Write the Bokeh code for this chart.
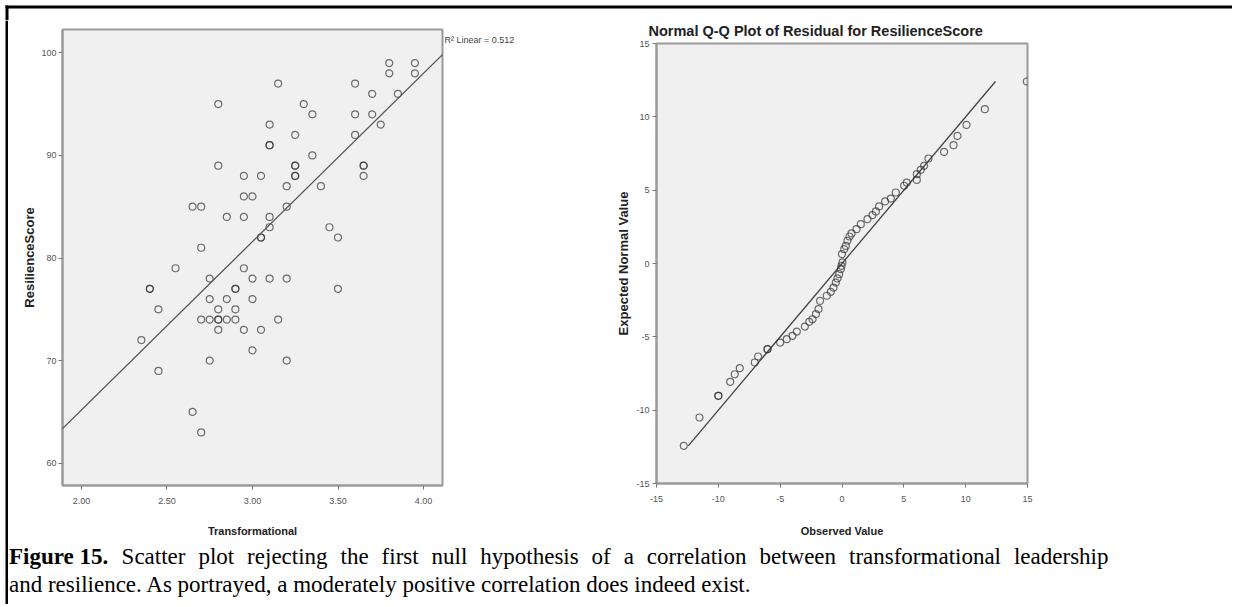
import numpy as np
from bokeh.plotting import figure
from bokeh.layouts import row, column
from bokeh.models import Range1d, FixedTicker, NumeralTickFormatter, Label, Slope
from bokeh.embed import file_html
from bokeh.resources import INLINE

# ---------------- data ----------------
transformational = [3.80, 3.80, 3.95, 3.95, 3.15, 3.60, 3.70, 3.85, 2.80, 3.30,
                    3.35, 3.60, 3.70, 3.10, 3.75, 3.25, 3.60, 3.10, 3.10, 3.35,
                    2.80, 3.25, 3.25, 3.65, 3.65, 2.95, 3.05, 3.25, 3.25, 3.65,
                    3.20, 3.40, 2.95, 3.00, 2.65, 2.70, 3.20, 2.85, 2.95, 3.10,
                    3.10, 3.45, 3.05, 3.05, 3.50, 2.70, 2.55, 2.95, 2.75, 3.00,
                    3.10, 3.20, 2.40, 2.40, 2.90, 2.90, 3.50, 2.75, 2.85, 3.00,
                    2.45, 2.80, 2.90, 2.70, 2.75, 2.80, 2.80, 2.85, 2.90, 3.15,
                    2.80, 2.95, 3.05, 2.35, 3.00, 2.75, 3.20, 2.45, 2.65, 2.70]
resilience = [99, 98, 99, 98, 97, 97, 96, 96, 95, 95,
              94, 94, 94, 93, 93, 92, 92, 91, 91, 90,
              89, 89, 89, 89, 89, 88, 88, 88, 88, 88,
              87, 87, 86, 86, 85, 85, 85, 84, 84, 84,
              83, 83, 82, 82, 82, 81, 79, 79, 78, 78,
              78, 78, 77, 77, 77, 77, 77, 76, 76, 76,
              75, 75, 75, 74, 74, 74, 74, 74, 74, 74,
              73, 73, 73, 72, 71, 70, 70, 69, 65, 63]
fit_slope = 16.4
fit_intercept = 32.4
r2_text = "R\u00b2 Linear = 0.512"

observed = [-12.79, -11.52, -10.0, -10.0, -9.04, -8.67, -8.26, -7.05, -6.78, -6.02,
            -6.02, -5.0, -4.46, -4.0, -3.65, -3.0, -2.65, -2.38, -2.11, -1.90,
            -1.77, -1.23, -0.90, -0.69, -0.50, -0.36, -0.23, -0.09, -0.04, 0.04,
            0.0, 0.18, 0.31, 0.44, 0.61, 0.77, 1.17, 1.52, 2.06, 2.47,
            2.74, 3.0, 3.49, 3.95, 4.35, 5.03, 5.24, 6.05, 6.05, 6.37,
            6.64, 6.99, 8.26, 9.02, 9.34, 10.07, 11.55, 14.95]
expected = [-12.43, -10.5, -9.02, -9.02, -8.07, -7.55, -7.14, -6.75, -6.34, -5.84,
            -5.84, -5.39, -5.16, -4.93, -4.64, -4.30, -3.98, -3.80, -3.45, -3.11,
            -2.55, -2.20, -1.93, -1.64, -1.30, -1.02, -0.73, -0.39, -0.16, 0.07,
            0.64, 0.98, 1.20, 1.55, 1.84, 2.05, 2.34, 2.68, 3.02, 3.30,
            3.55, 3.89, 4.23, 4.43, 4.84, 5.30, 5.52, 5.70, 6.09, 6.39,
            6.66, 7.16, 7.61, 8.07, 8.70, 9.45, 10.52, 12.41]

left_x_ticks = [2.0, 2.5, 3.0, 3.5, 4.0]
left_y_ticks = [60, 70, 80, 90, 100]
qq_ticks = [-15, -10, -5, 0, 5, 10, 15]

title_right = "Normal Q-Q Plot of Residual for ResilienceScore"
caption_bold = "Figure 15."
caption_line1 = "Scatter plot rejecting the first null hypothesis of a correlation between transformational leadership"
caption_line2 = "and resilience. As portrayed, a moderately positive correlation does indeed exist."

# ---------------- styles / layout sizes ----------------
SANS = "Liberation Sans"
SERIF = "Liberation Serif"
FRAME_BG = "#f0f0f0"
EDGE = "#9a9a9a"
MARK = "#333333"

TOTAL_W = 1232
PAD = 8                 # white gap + black rule on the left
TOP_H = 20              # strip holding the black rule at the top
ROW_H = 525
CAP_H = 59
LEFT_W = 436
MID_W = 156
RIGHT_W = TOTAL_W - PAD - LEFT_W - MID_W
RTITLE_H = 20


def style_axes(p):
    for ax in (p.xaxis[0], p.yaxis[0]):
        ax.axis_line_color = EDGE
        ax.axis_line_width = 2
        ax.major_tick_line_color = "#777777"
        ax.major_tick_in = 0
        ax.major_tick_out = 4
        ax.minor_tick_line_color = None
        ax.major_label_text_font = SANS
        ax.major_label_text_font_size = "9px"
        ax.major_label_text_color = "#555555"
        ax.axis_label_text_font = SANS
        ax.axis_label_text_font_style = "bold"
        ax.axis_label_text_color = "#222222"
    p.xaxis[0].axis_label_text_font_size = "11px"
    p.yaxis[0].axis_label_text_font_size = "13px"
    p.grid.visible = False
    p.background_fill_color = FRAME_BG
    p.border_fill_color = "white"
    p.outline_line_color = EDGE
    p.outline_line_width = 2


def blank(w, h, fill="white"):
    b = figure(width=w, height=h, output_backend="svg", toolbar_location=None,
               x_axis_type=None, y_axis_type=None, min_border=0,
               x_range=Range1d(0, w), y_range=Range1d(h, 0))
    b.title.visible = False
    b.background_fill_color = fill
    b.border_fill_color = fill
    b.outline_line_color = None
    b.grid.visible = False
    return b


# ---------------- left scatter ----------------
lx0, lx1 = 1.889, 4.111
ly0, ly1 = 57.83, 102.27
left = figure(width=LEFT_W, height=ROW_H, output_backend="svg", toolbar_location=None,
              x_range=Range1d(lx0, lx1), y_range=Range1d(ly0, ly1),
              min_border_left=54, min_border_right=LEFT_W - 54 - 380,
              min_border_top=9, min_border_bottom=ROW_H - 9 - 456)
left.title.visible = False
left.scatter(x=transformational, y=resilience, marker="circle", size=7,
             fill_color=None, line_color=MARK, line_alpha=0.7, line_width=1.2)
left.add_layout(Slope(gradient=fit_slope, y_intercept=fit_intercept,
                      line_color="#555555", line_width=1.3))
left.xaxis.axis_label = "Transformational"
left.yaxis.axis_label = "ResilienceScore"
left.xaxis.ticker = FixedTicker(ticks=left_x_ticks)
left.yaxis.ticker = FixedTicker(ticks=left_y_ticks)
left.xaxis.formatter = NumeralTickFormatter(format="0.00")
left.yaxis.formatter = NumeralTickFormatter(format="0")
style_axes(left)
left.xaxis.major_label_standoff = 8
left.xaxis.axis_label_standoff = 18
left.yaxis.major_label_standoff = 2
left.yaxis.axis_label_standoff = 1

# R-squared note (beside the left frame)
mid = blank(MID_W, ROW_H)
mid.add_layout(Label(x=0, y=19, text=r2_text, text_font=SANS, text_font_size="9px",
                     text_color="#444444", text_baseline="middle"))

# ---------------- right Q-Q ----------------
rtitle = blank(RIGHT_W, RTITLE_H)
rtitle.add_layout(Label(x=48, y=10, text=title_right, text_font=SANS, text_font_style="bold",
                        text_font_size="14.5px", text_color="#222222", text_baseline="middle"))

RH = ROW_H - RTITLE_H
right = figure(width=RIGHT_W, height=RH, output_backend="svg", toolbar_location=None,
               x_range=Range1d(-15, 15), y_range=Range1d(-15, 15),
               min_border_left=56, min_border_right=RIGHT_W - 56 - 371,
               min_border_top=3, min_border_bottom=RH - 3 - 440)
right.title.visible = False
ref_lo, ref_hi = min(expected), max(expected)
right.line(x=[ref_lo, ref_hi], y=[ref_lo, ref_hi], line_color="#444444", line_width=1.3)
right.scatter(x=observed, y=expected, marker="circle", size=7,
              fill_color=None, line_color=MARK, line_alpha=0.7, line_width=1.2)
right.xaxis.axis_label = "Observed Value"
right.yaxis.axis_label = "Expected Normal Value"
right.xaxis.ticker = FixedTicker(ticks=qq_ticks)
right.yaxis.ticker = FixedTicker(ticks=qq_ticks)
right.xaxis.formatter = NumeralTickFormatter(format="0")
right.yaxis.formatter = NumeralTickFormatter(format="0")
style_axes(right)
right.xaxis.major_label_standoff = 8
right.xaxis.axis_label_standoff = 20
right.yaxis.major_label_standoff = 3
right.yaxis.axis_label_standoff = 2

# ---------------- caption ----------------
TIMES_W = {' ': 250, 'a': 444, 'b': 500, 'c': 444, 'd': 500, 'e': 444, 'f': 333, 'g': 500,
           'h': 500, 'i': 278, 'j': 278, 'k': 500, 'l': 278, 'm': 778, 'n': 500, 'o': 500,
           'p': 500, 'q': 500, 'r': 333, 's': 389, 't': 278, 'u': 500, 'v': 500, 'w': 722,
           'x': 500, 'y': 500, 'z': 444, 'S': 556, 'A': 722, ',': 250, '.': 250}
TIMES_BOLD_W = {'F': 611, 'i': 278, 'g': 500, 'u': 556, 'r': 444, 'e': 444, ' ': 250,
                '1': 500, '5': 500, '.': 250}


def tw(s, table, fs):
    return sum(table.get(ch, 500) for ch in s) / 1000.0 * fs


CAP_W = TOTAL_W - PAD
cap = blank(CAP_W, CAP_H)
CAP_FS = 23
LINE1_Y, LINE2_Y = 11, 39
JUSTIFY_END = 1100
cap.add_layout(Label(x=0.5, y=LINE1_Y, text=caption_bold, text_font=SERIF, text_font_style="bold",
                     text_font_size=f"{CAP_FS}px", text_color="black", text_baseline="middle"))
words = caption_line1.split(" ")
bold_end = 0.5 + tw(caption_bold, TIMES_BOLD_W, CAP_FS)
natural = sum(tw(w, TIMES_W, CAP_FS) for w in words)
gap = (JUSTIFY_END - bold_end - natural) / len(words)
xpos = bold_end + gap
for w in words:
    cap.add_layout(Label(x=xpos, y=LINE1_Y, text=w, text_font=SERIF,
                         text_font_size=f"{CAP_FS}px", text_color="black", text_baseline="middle"))
    xpos += tw(w, TIMES_W, CAP_FS) + gap
cap.add_layout(Label(x=0.5, y=LINE2_Y, text=caption_line2, text_font=SERIF,
                     text_font_size=f"{CAP_FS}px", text_color="black", text_baseline="middle"))

# ---------------- frame rules ----------------
top_strip = blank(TOTAL_W, TOP_H)
top_strip.quad(left=[PAD - 3], right=[TOTAL_W], top=[5], bottom=[8],
               fill_color="black", line_color=None)
top_strip.quad(left=[PAD - 3], right=[PAD], top=[5], bottom=[TOP_H],
               fill_color="black", line_color=None)
side_h = ROW_H + CAP_H
side_strip = blank(PAD, side_h)
side_strip.quad(left=[PAD - 3], right=[PAD], top=[0], bottom=[side_h],
                fill_color="black", line_color=None)

# the title strip is wrapped in a row so that the column does not align its frame
# with the Q-Q plot's frame
right_block = column(row(rtitle, spacing=0), row(right, spacing=0), spacing=0)

layout = column(
    top_strip,
    row(side_strip,
        column(row(column(left), column(mid), right_block, spacing=0),
               cap, spacing=0),
        spacing=0),
    spacing=0)

open("out.html", "w").write(file_html(layout, INLINE))
